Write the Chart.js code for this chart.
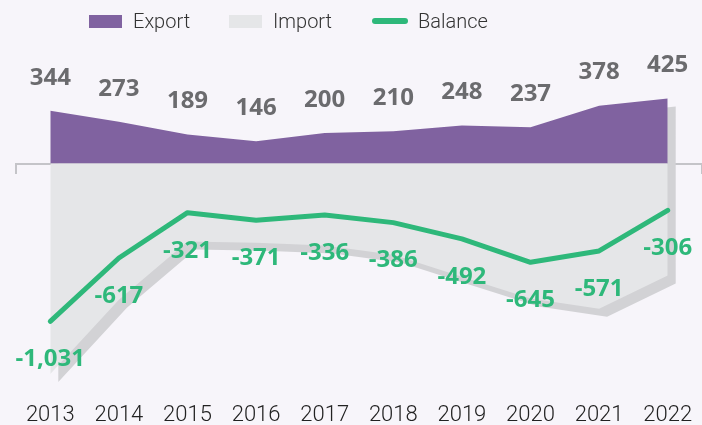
<!DOCTYPE html>
<html>
<head>
<meta charset="utf-8">
<script src="https://cdn.jsdelivr.net/npm/chart.js@4.4.1/dist/chart.umd.min.js"></script>
<style>
  html, body { margin: 0; padding: 0; background: #f7f5fa; }
  #wrap { position: relative; width: 702px; height: 425px; }
  #legend { position: absolute; left: 0; top: 0; width: 702px; height: 40px; font-family: Roboto, sans-serif; font-weight: 300; font-size: 20px; color: #333; }
  #legend .box { position: absolute; top: 15px; width: 33px; height: 13px; }
  #legend .txt { position: absolute; top: 8px; line-height: 26px; }
</style>
</head>
<body>
<div id="wrap">
  <canvas id="chart" width="702" height="425"></canvas>
  <div id="legend">
    <div class="box" style="left:89px;background:#8062a0"></div><div class="txt" style="left:133px">Export</div>
    <div class="box" style="left:229px;background:#e5e6e8"></div><div class="txt" style="left:273px">Import</div>
    <div class="box" style="left:372px;top:18px;width:36px;height:6px;border-radius:3px;background:#2eb87a"></div><div class="txt" style="left:418px">Balance</div>
  </div>
</div>
<script>
// ---------------- data ----------------
const years = ['2013', '2014', '2015', '2016', '2017', '2018', '2019', '2020', '2021', '2022'];
const exportValues = [344, 273, 189, 146, 200, 210, 248, 237, 378, 425];
const importValues = [-1375, -890, -510, -517, -536, -596, -740, -882, -949, -731];
const balanceValues = [-1031, -617, -321, -371, -336, -386, -492, -645, -571, -306];

const PURPLE = '#8062a0';
const GRAY = '#e5e6e8';
const SHADOW = '#d2d2d5';
const GREEN = '#2eb87a';

// shadow behind export + import areas (offset 8px right / down)
const shadowPlugin = {
    id: 'areaShadow',
    beforeDatasetsDraw(chart) {
        const top = chart.getDatasetMeta(0).data;
        const bottom = chart.getDatasetMeta(1).data;
        const ctx = chart.ctx;
        ctx.save();
        ctx.fillStyle = SHADOW;
        ctx.beginPath();
        top.forEach((p, i) => {
            if (i === 0) ctx.moveTo(p.x + 8, p.y + 8);
            else ctx.lineTo(p.x + 8, p.y + 8);
        });
        for (let i = bottom.length - 1; i >= 0; i--) {
            ctx.lineTo(bottom[i].x + 8, bottom[i].y + 8);
        }
        ctx.closePath();
        ctx.fill();
        ctx.restore();
    }
};

// value labels: export above, balance below
const labelPlugin = {
    id: 'valueLabels',
    afterDraw(chart) {
        const ctx = chart.ctx;
        ctx.save();
        ctx.textAlign = 'center';
        ctx.textBaseline = 'middle';
        ctx.font = 'bold 24px "Open Sans", sans-serif';
        ctx.fillStyle = '#6b6b6e';
        chart.getDatasetMeta(0).data.forEach((p, i) => {
            ctx.fillText(exportValues[i].toLocaleString('en-US'), p.x, p.y - 33);
        });
        ctx.fillStyle = GREEN;
        chart.getDatasetMeta(2).data.forEach((p, i) => {
            ctx.fillText(balanceValues[i].toLocaleString('en-US'), p.x, p.y + 38);
        });
        ctx.restore();
    }
};

new Chart(document.getElementById('chart'), {
    type: 'line',
    data: {
        labels: years,
        datasets: [
            {
                label: 'Export',
                data: exportValues,
                backgroundColor: PURPLE,
                borderWidth: 0,
                pointRadius: 0,
                fill: 'origin',
                order: 3
            },
            {
                label: 'Import',
                data: importValues,
                backgroundColor: GRAY,
                borderWidth: 0,
                pointRadius: 0,
                fill: 'origin',
                order: 2
            },
            {
                label: 'Balance',
                data: balanceValues,
                borderColor: GREEN,
                borderWidth: 5,
                borderCapStyle: 'round',
                borderJoinStyle: 'round',
                pointRadius: 0,
                fill: false,
                order: 1
            }
        ]
    },
    options: {
        responsive: false,
        animation: false,
        layout: { padding: { top: 41, left: 16, right: -2, bottom: -8 } },
        plugins: {
            legend: { display: false },
            tooltip: { enabled: false }
        },
        scales: {
            x: {
                offset: true,
                grid: { display: false, drawTicks: false },
                border: { display: false },
                ticks: {
                    padding: 4,
                    color: '#222',
                    font: { family: 'Roboto', weight: '300', size: 22 }
                }
            },
            zeroAxis: {
                type: 'category',
                labels: years,
                axis: 'x',
                position: { y: 0 },
                offset: true,
                z: 1,
                grid: { offset: true, drawOnChartArea: false, tickLength: 9, color: '#c4c4c8', lineWidth: 2 },
                border: { color: '#c4c4c8', width: 2 },
                ticks: { display: false }
            },
            y: {
                display: false,
                min: -1535,
                max: 800
            }
        }
    },
    plugins: [shadowPlugin, labelPlugin]
});
</script>
</body>
</html>
